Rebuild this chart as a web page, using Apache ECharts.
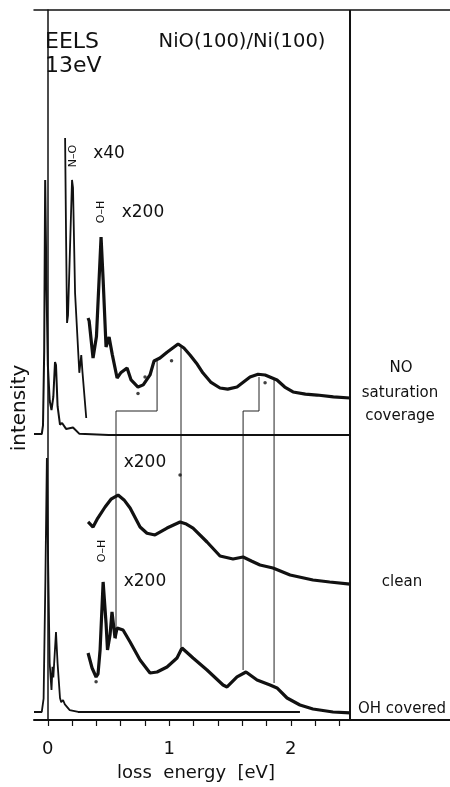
<!DOCTYPE html>
<html lang="en">
<head>
    <meta charset="UTF-8">
    <title>EELS NiO(100)/Ni(100)</title>
    <script src="https://cdn.jsdelivr.net/npm/echarts@6/dist/echarts.min.js"></script>
    <style>
        html, body { margin: 0; padding: 0; background: #fff; }
        #chart { width: 450px; height: 787px; }
    </style>
</head>
<body>
    <div id="chart"></div>
    <script>
        // loss energy [eV] vs. intensity (arbitrary units, spectra stacked with offsets)
        // NO saturation coverage
        const noX1 = [[-0.114,40.28],[-0.05,40.28],[-0.04,41.5],[-0.03,52],[-0.022,76.06],[-0.012,62],[0.0,50],[0.015,45],[0.03,43.66],[0.045,45.5],[0.059,50.42],[0.067,50.0],[0.08,44.2],[0.1,41.6],[0.117,41.83],[0.15,41.0],[0.207,41.2],[0.26,40.3],[0.5,40.14],[2.487,40.14]];
        const noX40 = [[0.142,81.97],[0.15,68],[0.158,55.92],[0.166,57],[0.185,68],[0.199,76.06],[0.207,75],[0.224,60.14],[0.259,48.9],[0.275,51.4],[0.285,49],[0.316,42.54]];
        const noX200 = [[0.331,56.62],[0.34,56.2],[0.372,50.99],[0.40,54],[0.438,68.03],[0.455,62],[0.479,52.54],[0.504,53.94],[0.53,51.5],[0.570,48.17],[0.60,48.9],[0.652,49.58],[0.685,47.9],[0.742,46.9],[0.785,47.2],[0.841,48.6],[0.874,50.56],[0.923,50.99],[0.981,51.8],[1.072,52.96],[1.12,52.4],[1.170,51.41],[1.23,50.1],[1.277,48.87],[1.34,47.6],[1.417,46.76],[1.48,46.6],[1.557,46.9],[1.664,48.31],[1.73,48.7],[1.788,48.59],[1.886,47.89],[1.95,46.9],[2.018,46.2],[2.12,45.9],[2.216,45.77],[2.35,45.5],[2.487,45.35]];
        // clean
        const cleanX200 = [[0.331,27.89],[0.372,27.18],[0.41,28.4],[0.471,30.0],[0.52,31.1],[0.578,31.69],[0.627,31.0],[0.677,29.86],[0.759,27.18],[0.816,26.3],[0.882,26.06],[0.981,27.04],[1.088,27.89],[1.14,27.6],[1.195,27.04],[1.310,25.07],[1.417,23.1],[1.524,22.68],[1.607,22.96],[1.675,22.4],[1.746,21.83],[1.853,21.41],[1.994,20.42],[2.182,19.72],[2.32,19.44],[2.487,19.15]];
        // OH covered
        const ohX1 = [[-0.114,1.13],[-0.05,1.13],[-0.035,3],[-0.02,20],[-0.008,36.9],[0.0,25],[0.015,8],[0.03,4.23],[0.038,7.5],[0.045,6],[0.067,12.39],[0.08,8],[0.1,3.1],[0.11,2.5],[0.125,2.82],[0.14,2.2],[0.18,1.4],[0.25,1.13],[2.075,1.13]];
        const ohX200 = [[0.331,9.44],[0.364,7.32],[0.397,6.06],[0.413,6.5],[0.430,9.86],[0.455,19.44],[0.479,13.66],[0.491,9.86],[0.512,12.0],[0.528,15.21],[0.553,11.55],[0.570,12.96],[0.619,12.68],[0.677,10.99],[0.759,8.45],[0.841,6.62],[0.899,6.76],[0.981,7.46],[1.063,8.73],[1.104,10.14],[1.195,8.73],[1.310,7.04],[1.442,4.93],[1.475,4.65],[1.557,6.06],[1.631,6.76],[1.722,5.63],[1.829,4.93],[1.886,4.51],[1.969,3.1],[2.075,2.11],[2.182,1.55],[2.347,1.13],[2.487,0.99]];
        // stray data points off the curves
        const strayDots = [[1.018,50.6],[0.742,46.0],[0.80,48.3],[1.788,47.5],[1.088,34.5],[0.397,5.4]];
        // guide lines joining features of the three spectra
        const guideA = [[0.899,50.7],[0.899,43.52],[0.561,43.52],[0.561,11.4]];
        const guideB = [[1.096,52.5],[1.096,10.28]];
        const guideC = [[1.738,48.3],[1.738,43.52],[1.607,43.52],[1.607,7.04]];
        const guideD = [[1.862,47.9],[1.862,5.21]];
        const rightEdge = [[2.487,0],[2.487,100]];
        const minorTicks = [0,0.2,0.4,0.6,0.8,1,1.2,1.4,1.6,1.8,2,2.2,2.4];
        const tickLabels = [0,1,2];

        const chart = echarts.init(document.getElementById('chart'));
        const ink = '#111';
        const font = 'DejaVu Sans';

        function curve(data, width) {
            return { type: 'line', data: data, showSymbol: false, silent: true,
                     lineStyle: { color: ink, width: width }, z: 3 };
        }
        function guide(data) {
            return { type: 'line', data: data, showSymbol: false, silent: true,
                     lineStyle: { color: '#222', width: 1 }, z: 2 };
        }
        function txt(x, y, text, size, extra) {
            return { type: 'text', x: x, y: y, silent: true,
                style: Object.assign({ text: text, font: size + 'px "' + font + '"', fill: ink,
                    align: 'center', verticalAlign: 'middle' }, extra || {}) };
        }
        function vtxt(x, y, text, size) {
            const t = txt(x, y, text, size);
            t.rotation = Math.PI / 2;
            return t;
        }

        const option = {
            backgroundColor: '#fff',
            animation: false,
            grid: { left: 34, right: 0, top: 10, bottom: 67 },
            xAxis: [{
                type: 'value', min: -0.114, max: 3.31, position: 'bottom',
                axisLine: { lineStyle: { color: ink, width: 2 } },
                axisTick: { show: true, inside: false, length: 6, customValues: minorTicks,
                            lineStyle: { color: ink, width: 1.2 } },
                axisLabel: { customValues: tickLabels, margin: 20, color: ink,
                             fontFamily: font, fontSize: 18 },
                splitLine: { show: false }
            }, {
                type: 'value', min: -0.114, max: 3.31, position: 'top',
                axisLine: { lineStyle: { color: ink, width: 1.5 } },
                axisTick: { show: false }, axisLabel: { show: false }, splitLine: { show: false }
            }],
            yAxis: {
                type: 'value', min: 0, max: 100,
                axisLine: { show: true, lineStyle: { color: ink, width: 1.5 } },
                axisTick: { show: false }, axisLabel: { show: false }, splitLine: { show: false }
            },
            series: [
                guide(guideA), guide(guideB), guide(guideC), guide(guideD),
                curve(rightEdge, 2),
                curve(noX1, 2), curve(noX40, 1.8), curve(noX200, 3.2),
                curve(cleanX200, 3.2),
                curve(ohX1, 1.8), curve(ohX200, 3.2),
                { type: 'scatter', data: strayDots, symbolSize: 3.5, silent: true,
                  itemStyle: { color: ink }, z: 4 }
            ],
            graphic: [
                txt(45, 42, 'EELS', 22, { align: 'left' }),
                txt(45, 66, '13eV', 22, { align: 'left' }),
                txt(242, 42, 'NiO(100)/Ni(100)', 19.5),
                txt(109, 154, 'x40', 17),
                txt(143, 213, 'x200', 17),
                txt(145, 463, 'x200', 17),
                txt(145, 582, 'x200', 17),
                vtxt(73, 156, 'N–O', 11),
                vtxt(101, 212, 'O–H', 11),
                vtxt(102, 551, 'O–H', 11),
                vtxt(20, 408, 'intensity', 20),
                txt(401, 368, 'NO', 15),
                txt(400, 393, 'saturation', 15),
                txt(400, 416, 'coverage', 15),
                txt(402, 582, 'clean', 15),
                txt(402, 709, 'OH covered', 15),
                txt(196, 773, 'loss  energy  [eV]', 18)
            ]
        };
        chart.setOption(option);
    </script>
</body>
</html>
